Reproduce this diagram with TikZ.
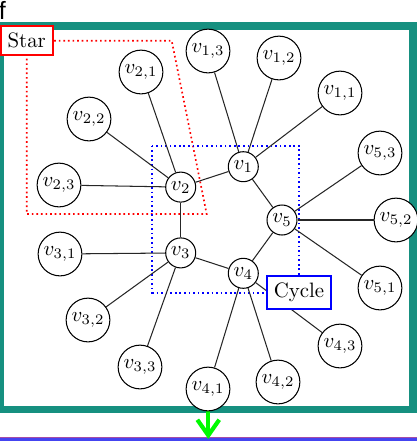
\documentclass[tikz,border=0pt]{standalone}
\usepackage{fontspec}
\newfontfamily\lblfont{Liberation Sans}
\usetikzlibrary{arrows.meta}
\definecolor{frameteal}{RGB}{22,144,128}
\definecolor{barblue}{RGB}{68,68,240}
\definecolor{arrowgreen}{RGB}{0,250,0}
\tikzset{
  cyc/.style={circle,draw,line width=0.5pt,fill=white,inner sep=0.5pt,minimum size=14.4pt},
  leaf/.style={circle,draw,line width=0.5pt,fill=white,inner sep=0.5pt,minimum size=21pt},
  edge/.style={line width=0.5pt,draw=black!85},
  grouplbl/.style={rectangle,fill=white,line width=1pt,inner sep=3.3pt},
  redline/.style={red,line width=0.8pt,dash pattern=on 0.8pt off 1.4pt},
  blueline/.style={blue,line width=0.8pt,dash pattern=on 0.8pt off 1.4pt}
}
\begin{document}
\begin{tikzpicture}[x=0.48pt,y=-0.48pt]
\useasboundingbox (0,0) rectangle (417,441);
% frame
\draw[frameteal,line width=3.6pt] (0.5,25.8) rectangle (413,409.5);
% bottom bar and arrow
\fill[barblue] (-5,437) rectangle (422,446);
\draw[violet!70,line width=0.4pt] (-5,437) -- (422,437);
\coordinate (arrS) at (208.3,410);
\coordinate (arrE) at (208.3,439);
\draw[arrowgreen,line width=2pt,-{Straight Barb[length=7.5pt,width=10.5pt,line width=2pt]}] (arrS) -- (arrE);
% f label
\node[anchor=base west,inner sep=0pt,font=\lblfont\fontsize{12}{14}\selectfont] (flbl) at (-1.5,19.5) {f};
% group outlines
\coordinate (sA) at (26.7,40.7);
\coordinate (sB) at (171.7,40.7);
\coordinate (sC) at (206.7,214);
\coordinate (sD) at (26.7,214);
\draw[redline] (sA) -- (sB) -- (sC) -- (sD) -- cycle;
\coordinate (cA) at (152.3,145.7);
\coordinate (cB) at (299,292.7);
\draw[blueline] (cA) rectangle (cB);
% cycle nodes
\node[cyc] (v1) at (243.3,166.7) {$v_1$};
\node[cyc] (v2) at (180.7,187.1) {$v_2$};
\node[cyc] (v3) at (180.7,252.9) {$v_3$};
\node[cyc] (v4) at (243.3,273.3) {$v_4$};
\node[cyc] (v5) at (282,220) {$v_5$};
% leaves
\node[leaf] (v11) at (340,93) {$v_{1,1}$};
\node[leaf] (v12) at (279,58) {$v_{1,2}$};
\node[leaf] (v13) at (208,51) {$v_{1,3}$};
\node[leaf] (v21) at (141,72) {$v_{2,1}$};
\node[leaf] (v22) at (89,119) {$v_{2,2}$};
\node[leaf] (v23) at (59,185) {$v_{2,3}$};
\node[leaf] (v31) at (60,254) {$v_{3,1}$};
\node[leaf] (v32) at (88,320) {$v_{3,2}$};
\node[leaf] (v33) at (140,367) {$v_{3,3}$};
\node[leaf] (v41) at (208,389) {$v_{4,1}$};
\node[leaf] (v42) at (278,382) {$v_{4,2}$};
\node[leaf] (v43) at (340,346) {$v_{4,3}$};
\node[leaf] (v51) at (380,288) {$v_{5,1}$};
\node[leaf] (v52) at (396,220) {$v_{5,2}$};
\node[leaf] (v53) at (380,153) {$v_{5,3}$};
% edges
\foreach \a/\b in {v1/v2,v2/v3,v3/v4,v4/v5,v5/v1,
  v1/v11,v1/v12,v1/v13,v2/v21,v2/v22,v2/v23,v3/v31,v3/v32,v3/v33,
  v4/v41,v4/v42,v4/v43,v5/v51,v5/v52,v5/v53}
  \draw[edge] (\a) -- (\b);
% labels
\node[grouplbl,draw=red] (starlbl) at (sA) {Star};
\node[grouplbl,draw=blue] (cyclbl) at (cB) {Cycle};
\end{tikzpicture}
\end{document}
